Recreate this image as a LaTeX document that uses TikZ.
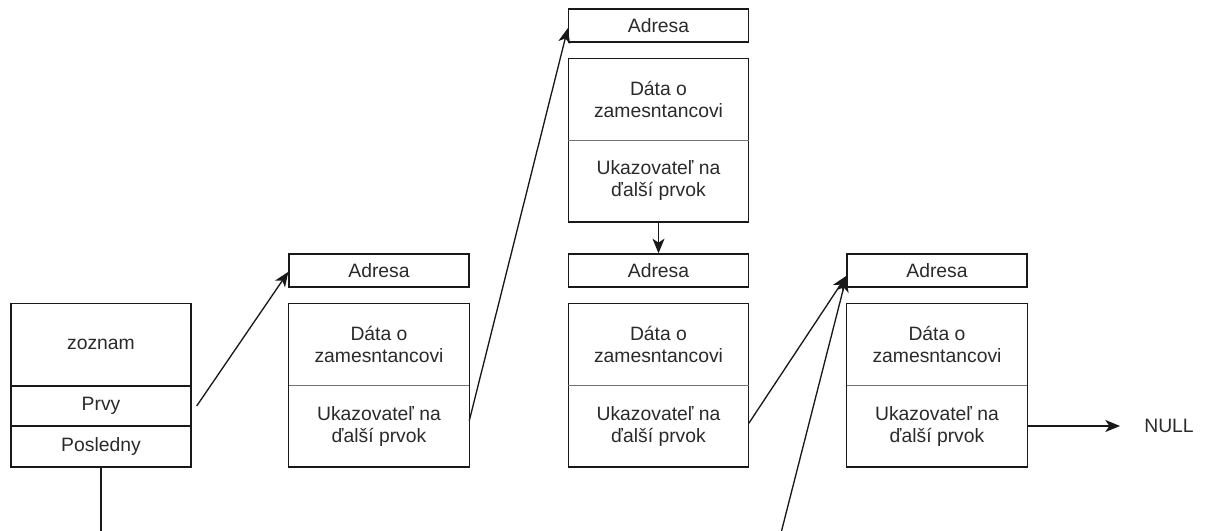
\documentclass[tikz,border=0pt]{standalone}
\usepackage{fontspec}
\setmainfont{Liberation Sans}
\usetikzlibrary{arrows.meta}
\definecolor{ink}{HTML}{2A2A2A}
\newcommand{\lbl}{\fontsize{14.5}{16.5}\selectfont\color{ink}}
\tikzset{
  frame/.style={draw=black!90, line width=1pt},
  cell/.style={frame, minimum width=135pt, inner sep=0pt, align=center, font=\lbl},
  half/.style={minimum width=135pt, minimum height=61.25pt, inner sep=0pt, align=center, font=\lbl},
  divider/.style={draw=black!55, line width=1pt},
  ptr/.style={-{Stealth[length=11pt,width=9pt,inset=3pt]}, line width=1pt, draw=black!90},
  link/.style={line width=1pt, draw=black!90},
}
% element record: address box, data part, pointer part
\newcommand{\elem}[3]{%
  \node[cell, minimum height=24.75pt] (a#1) at (#2,#3) {Adresa};
  \node[half] (d#1) at (#2,#3+74) {Dáta o\\zamesntancovi};
  \node[half] (p#1) at (#2,#3+155.5) {Ukazovateľ na\\ďalší prvok};
  \draw[frame] (d#1.north west) rectangle (p#1.south east);
  \draw[divider] (d#1.south west) -- (d#1.south east);
}
\begin{document}
\begin{tikzpicture}[x=0.75pt,y=-0.75pt]
\useasboundingbox (0,0) rectangle (1205,531);

% list header record
\node[cell, minimum height=61.9pt] (zz) at (101,344.75) {zoznam};
\node[cell, minimum height=30pt] (prvy) at (101,406) {Prvy};
\node[cell, minimum height=30.75pt] (posl) at (101,446.5) {Posledny};

\elem{2}{379}{270.5}
\elem{t}{658.5}{25.5}
\elem{3}{658.5}{270.5}
\elem{4}{937}{270.5}

\node[font=\lbl, inner sep=0pt] (null) at (1169,426) {NULL};

\coordinate (lastend) at (101,531);
\coordinate (tailin) at (781.5,531);
\coordinate (nullend) at (1120,426);

% connectors
\draw[ptr] ([xshift=3.75pt]prvy.east) -- ([yshift=-1pt]a2.west);
\draw[ptr] ([yshift=4pt]p2.east) -- ([yshift=-2pt]at.west);
\draw[ptr] (pt.south) -- (a3.north);
\draw[ptr] ([yshift=2pt]p3.east) -- ([yshift=-4pt]a4.west);
\draw[ptr] (tailin) -- ([yshift=-5pt]a4.west);
\draw[ptr] (p4.east) -- (nullend);
\draw[link] (posl.south) -- (lastend);
\end{tikzpicture}
\end{document}
